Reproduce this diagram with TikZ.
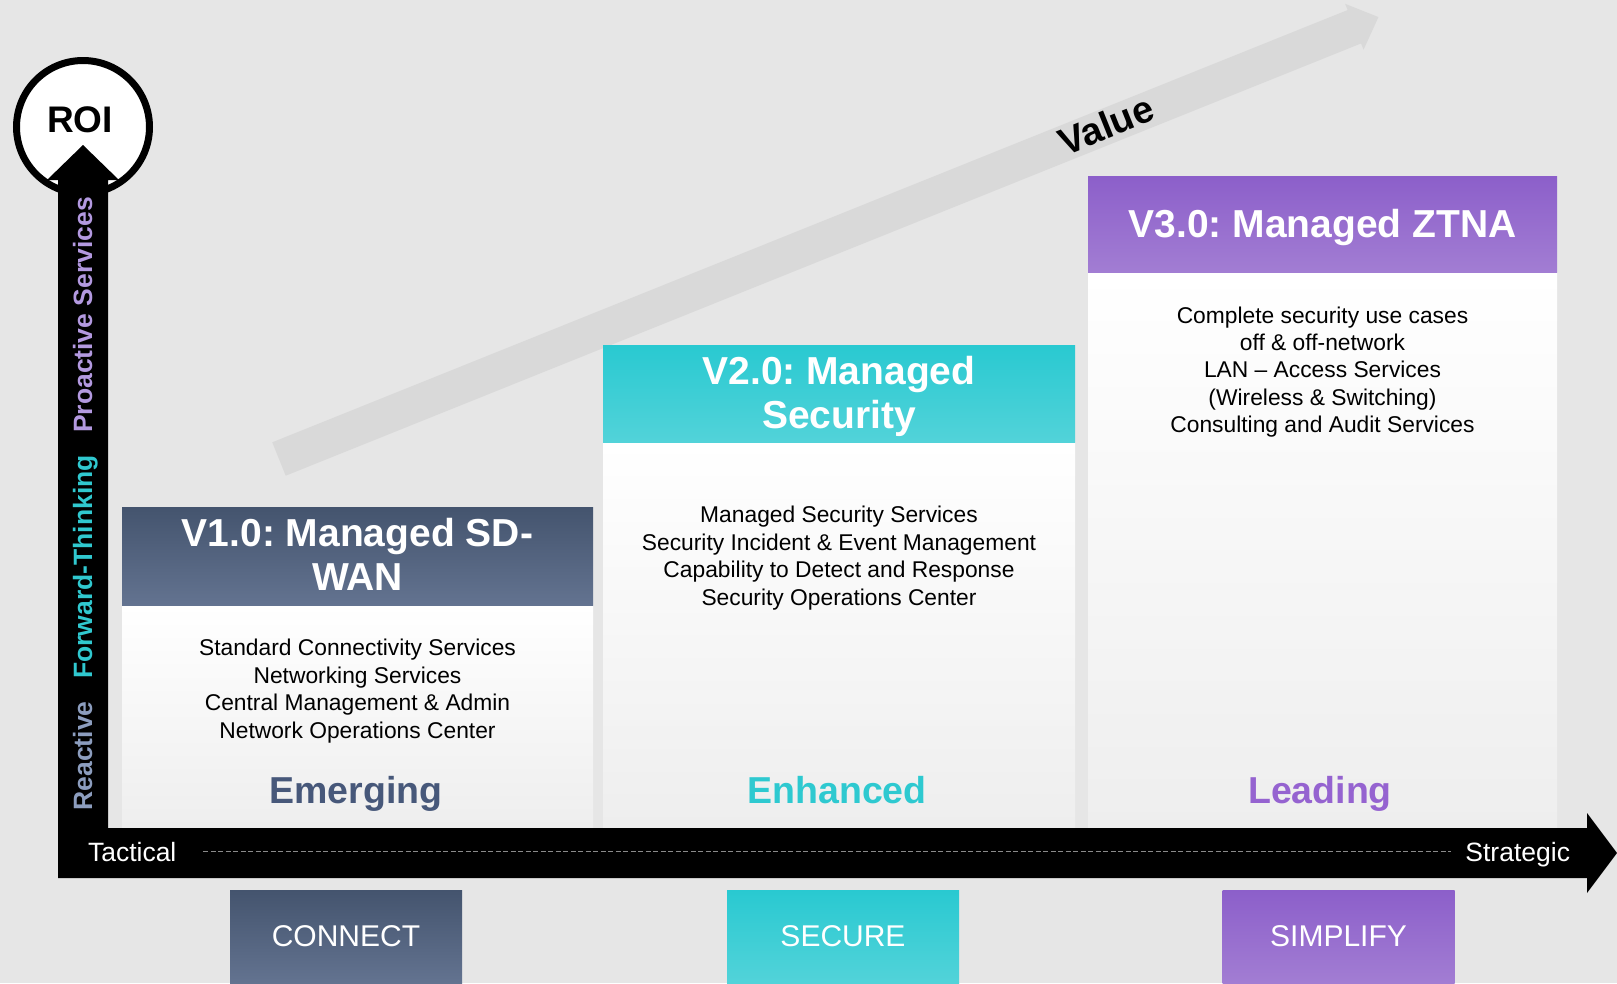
\documentclass[tikz,border=0pt]{standalone}
\usepackage{fontspec}
\setmainfont{Liberation Sans}
\frenchspacing
\definecolor{bg}{HTML}{E6E6E6}
\definecolor{valuegray}{HTML}{D9D9D9}
\definecolor{bodybot}{HTML}{EEEEEE}
\definecolor{vonetop}{HTML}{44546E}
\definecolor{vonebot}{HTML}{637390}
\definecolor{vtwotop}{HTML}{29C9D1}
\definecolor{vtwobot}{HTML}{52D3D9}
\definecolor{vthreetop}{HTML}{8C5FCA}
\definecolor{vthreebot}{HTML}{A27DD3}
\definecolor{emergingc}{HTML}{47587A}
\definecolor{enhancedc}{HTML}{2EC9D0}
\definecolor{leadingc}{HTML}{9563D0}
\definecolor{reactivec}{HTML}{8C9DBE}
\definecolor{forwardc}{HTML}{30C8CF}
\definecolor{proactivec}{HTML}{B399E0}
\definecolor{dashc}{HTML}{8A8A8A}
\begin{document}
\begin{tikzpicture}[x=1pt,y=-1pt,
  every node/.style={inner sep=0pt,outer sep=0pt},
  panel/.style={rectangle,draw=none},
  bodybox/.style={panel,top color=white,bottom color=bodybot},
  ttl/.style={text=white,font=\fontsize{39}{44}\selectfont\bfseries,align=center},
  items/.style={text=black,font=\fontsize{22.8}{27.4}\selectfont,align=center},
  lvl/.style={font=\fontsize{37.5}{40}\selectfont\bfseries,anchor=base},
  pillar/.style={panel,minimum width=232pt,minimum height=93pt,text=white,font=\fontsize{30}{34}\selectfont},
  axislbl/.style={text=white,font=\fontsize{26.5}{30}\selectfont},
  sidelbl/.style={rotate=90,anchor=base,font=\fontsize{26.5}{30}\selectfont\bfseries}
]
\useasboundingbox (0,0) rectangle (1617,983);
\fill[bg] (0,0) rectangle (1617,983);

% Value arrow
\begin{scope}[shift={(279,459)},rotate=21.9]
  \fill[valuegray] (0,-18) -- (1159,-18) -- (1159,-24.7) -- (1185,0) -- (1159,24.7) -- (1159,18) -- (0,18) -- cycle;
\end{scope}
\node[rotate=21.9,font=\fontsize{38}{42}\selectfont\bfseries] (value) at (1106,125) {Value};

% Column 1
\node[bodybox,minimum width=471pt,minimum height=223pt] (b1) at (357.5,716.5) {};
\node[panel,top color=vonetop,bottom color=vonebot,minimum width=471pt,minimum height=98pt] (h1) at (357.5,556) {};
\node[ttl] (t1) at (357.5,554.8) {V1.0: Managed SD-\\WAN};
\node[items] (i1) at (357.5,691) {Standard Connectivity Services\\Networking Services\\Central Management \& Admin\\Network Operations Center};
\node[lvl,text=emergingc] (l1) at (356,803) {Emerging};

% Column 2
\node[bodybox,minimum width=472pt,minimum height=386pt] (b2) at (839,635) {};
\node[panel,top color=vtwotop,bottom color=vtwobot,minimum width=472pt,minimum height=97pt] (h2) at (839,393.5) {};
\node[ttl] (t2) at (839,396.4) {V2.0: Managed\\Security};
\node[items] (i2) at (839,558) {Managed Security Services\\Security Incident \& Event Management\\Capability to Detect and Response\\Security Operations Center};
\node[lvl,text=enhancedc] (l2) at (837,803) {Enhanced};

% Column 3
\node[bodybox,minimum width=469pt,minimum height=556pt] (b3) at (1322.5,550) {};
\node[panel,top color=vthreetop,bottom color=vthreebot,minimum width=469pt,minimum height=96pt] (h3) at (1322.5,224) {};
\node[ttl,anchor=base] (t3) at (1322.5,237) {V3.0: Managed ZTNA};
\node[items] (i3) at (1322.5,372) {Complete security use cases\\off \& off-network\\LAN – Access Services\\(Wireless \& Switching)\\Consulting and Audit Services};
\node[lvl,text=leadingc] (l3) at (1320,803) {Leading};

% ROI circle
\node[circle,draw=black,line width=7pt,fill=white,minimum size=133pt] (roic) at (83,127) {};
\node[anchor=base,font=\fontsize{37}{40}\selectfont\bfseries] (roi) at (80,132) {ROI};

% Axes
\fill[black] (58,878) -- (58,180) -- (47,180) -- (83,145) -- (119,180) -- (108,180) -- (108,828)
  -- (1587,828) -- (1587,813) -- (1617,853) -- (1587,893) -- (1587,878) -- cycle;

\node[sidelbl,text=reactivec] (reactive) at (92,756) {Reactive};
\node[sidelbl,text=forwardc] (forward) at (92,567) {Forward-Thinking};
\node[sidelbl,text=proactivec] (proactive) at (92,315) {Proactive Services};

\node[axislbl,anchor=base west] (tactical) at (88,861) {Tactical};
\node[axislbl,anchor=base east] (strategic) at (1570,861) {Strategic};
\draw[dashc,line width=1.3pt,dash pattern=on 5pt off 2.5pt,shorten <=27pt,shorten >=14pt]
  (tactical.east) -- (tactical.east -| strategic.west);

% Pillars
\node[pillar,top color=vonetop,bottom color=vonebot] (connect) at (346,936.5) {CONNECT};
\node[pillar,top color=vtwotop,bottom color=vtwobot] (secure) at (843,936.5) {SECURE};
\node[pillar,top color=vthreetop,bottom color=vthreebot] (simplify) at (1338.5,936.5) {SIMPLIFY};
\end{tikzpicture}
\end{document}
